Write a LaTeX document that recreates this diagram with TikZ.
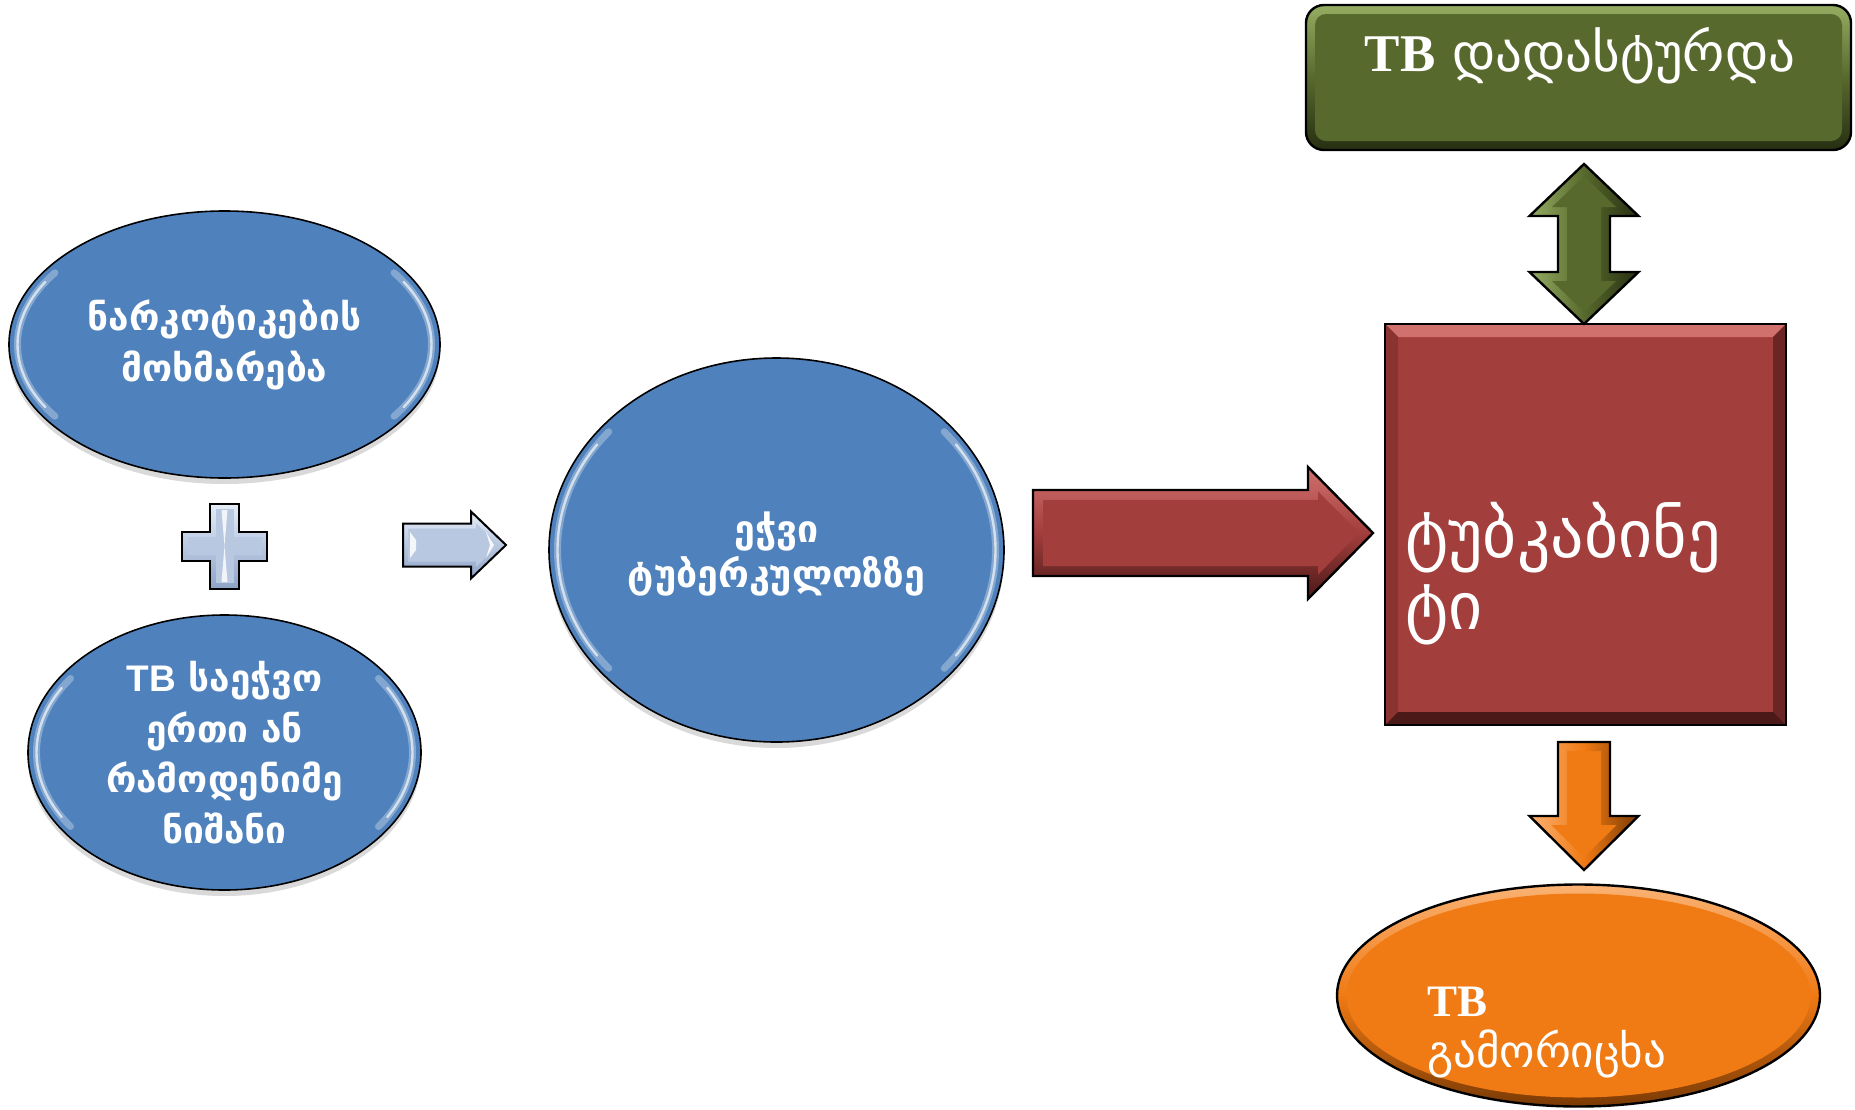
\documentclass[tikz,border=0pt]{standalone}
\usepackage{fontspec}
\setmainfont{DejaVu Sans}
\newfontfamily\geo{DejaVu Sans}
\newfontfamily\tbsans{Liberation Sans}
\newfontfamily\tbserif{Liberation Serif}
\usetikzlibrary{shapes.geometric,shadows,calc}
\definecolor{blueF}{HTML}{4F81BD}
\definecolor{redF}{HTML}{A23E3C}
\definecolor{redL}{HTML}{D0716E}
\definecolor{redM}{HTML}{8A3331}
\definecolor{redR}{HTML}{6A2524}
\definecolor{redD}{HTML}{4A1918}
\definecolor{greenF}{HTML}{58692D}
\definecolor{greenL}{HTML}{95AC62}
\definecolor{greenD}{HTML}{262F12}
\definecolor{orangeF}{HTML}{F07A14}
\definecolor{orangeL}{HTML}{FAB273}
\definecolor{orangeD}{HTML}{7A3A05}
\definecolor{lblue}{HTML}{B9C8E1}
\definecolor{lblueL}{HTML}{E6EDF7}
\definecolor{lblueD}{HTML}{8FA3C6}
\begin{document}
\begin{tikzpicture}[x=1bp,y=-1bp,
  bell/.style={ellipse, draw=black, line width=1.6bp, fill=blueF, inner sep=0, outer sep=0,
    drop shadow={opacity=0.3, shadow xshift=0bp, shadow yshift=-6bp}},
  wtext/.style={text=white, inner sep=0, font=\geo},
  hl/.style={white, opacity=0.3, line width=7bp, line cap=round},
  hlc/.style={white, opacity=0.65, line width=2.4bp, line cap=round},
  outl/.style={draw=black, line width=2.4bp, line join=miter},
]
\useasboundingbox (0,0) rectangle (1855,1109);

% ---------- blue ellipses ----------
\node[bell, minimum width=431bp, minimum height=267bp] (e1) at (224.5,344.5) {};
\node[bell, minimum width=393bp, minimum height=275bp] (e2) at (224.5,752.5) {};
\node[bell, minimum width=455bp, minimum height=384bp] (e3) at (776.5,550) {};
% gel highlights (left and right inner rims)
\draw[hl]  ($(e1.center)+(145:207 and 125)$) arc[start angle=145,end angle=215,x radius=207,y radius=125];
\draw[hlc] ($(e1.center)+(150:207 and 125)$) arc[start angle=150,end angle=210,x radius=207,y radius=125];
\draw[hl]  ($(e1.center)+(-35:207 and 125)$) arc[start angle=-35,end angle=35,x radius=207,y radius=125];
\draw[hlc] ($(e1.center)+(-30:207 and 125)$) arc[start angle=-30,end angle=30,x radius=207,y radius=125];
\draw[hl]  ($(e2.center)+(145:188 and 129)$) arc[start angle=145,end angle=215,x radius=188,y radius=129];
\draw[hlc] ($(e2.center)+(150:188 and 129)$) arc[start angle=150,end angle=210,x radius=188,y radius=129];
\draw[hl]  ($(e2.center)+(-35:188 and 129)$) arc[start angle=-35,end angle=35,x radius=188,y radius=129];
\draw[hlc] ($(e2.center)+(-30:188 and 129)$) arc[start angle=-30,end angle=30,x radius=188,y radius=129];
\draw[hl]  ($(e3.center)+(140:219 and 184)$) arc[start angle=140,end angle=220,x radius=219,y radius=184];
\draw[hlc] ($(e3.center)+(145:219 and 184)$) arc[start angle=145,end angle=215,x radius=219,y radius=184];
\draw[hl]  ($(e3.center)+(-40:219 and 184)$) arc[start angle=-40,end angle=40,x radius=219,y radius=184];
\draw[hlc] ($(e3.center)+(-35:219 and 184)$) arc[start angle=-35,end angle=35,x radius=219,y radius=184];

% ---------- plus sign ----------
\coordinate (pc) at (224.5,546);
\path[draw=black, line width=2bp, top color=lblueL, bottom color=lblueD, middle color=lblue]
  ($(pc)+(-14.5,-42.5)$) -- ($(pc)+(14.5,-42.5)$) -- ($(pc)+(14.5,-14.5)$) -- ($(pc)+(42.5,-14.5)$)
  -- ($(pc)+(42.5,14.5)$) -- ($(pc)+(14.5,14.5)$) -- ($(pc)+(14.5,42.5)$) -- ($(pc)+(-14.5,42.5)$)
  -- ($(pc)+(-14.5,14.5)$) -- ($(pc)+(-42.5,14.5)$) -- ($(pc)+(-42.5,-14.5)$) -- ($(pc)+(-14.5,-14.5)$) -- cycle;
\fill[lblue] ($(pc)+(-9,-37)$) rectangle ($(pc)+(9,37)$);
\fill[lblue] ($(pc)+(-37,-9)$) rectangle ($(pc)+(37,9)$);
\fill[white, opacity=0.8] ($(pc)+(-3,-36)$) -- ($(pc)+(3,-36)$) -- (pc) -- cycle;
\fill[white, opacity=0.8] ($(pc)+(-3,36)$) -- ($(pc)+(3,36)$) -- (pc) -- cycle;

% ---------- small light-blue arrow ----------
\shade[draw=black, line width=2bp, top color=lblueL, bottom color=lblueD, middle color=lblue]
  (403,523.5) -- (471,523.5) -- (471,511.5) -- (506,545) -- (471,578.5) -- (471,566.5) -- (403,566.5) -- cycle;
\fill[lblue] (408,528.5) -- (476,528.5) -- (476,523.2) -- (498.7,545) -- (476,566.8) -- (476,561.5) -- (408,561.5) -- cycle;
\fill[white, opacity=0.85] (410,532) -- (416,540) -- (416,550) -- (410,558) -- cycle;
\fill[white, opacity=0.85] (486,532) -- (494,545) -- (486,558) -- (490,545) -- cycle;

% ---------- big red arrow ----------
\shade[draw=black, line width=2.4bp, top color=redL, bottom color=redD, middle color=redF]
  (1033,490) -- (1308,490) -- (1308,467) -- (1373,533) -- (1308,599) -- (1308,576) -- (1033,576) -- cycle;
\fill[redF] (1043,500) -- (1318,500) -- (1318,491.4) -- (1359,533) -- (1318,574.6) -- (1318,566) -- (1043,566) -- cycle;

% ---------- red square ----------
\node[rectangle, fill=redF, minimum width=401bp, minimum height=401bp, inner sep=0, outer sep=0] (sq) at (1585.5,524.5) {};
\fill[redL] (sq.north west) -- (sq.north east) -- ($(sq.north east)+(-13,13)$) -- ($(sq.north west)+(13,13)$) -- cycle;
\fill[redM] (sq.north west) -- ($(sq.north west)+(13,13)$) -- ($(sq.south west)+(13,-13)$) -- (sq.south west) -- cycle;
\fill[redR] (sq.north east) -- (sq.south east) -- ($(sq.south east)+(-13,-13)$) -- ($(sq.north east)+(-13,13)$) -- cycle;
\fill[redD] (sq.south west) -- ($(sq.south west)+(13,-13)$) -- ($(sq.south east)+(-13,-13)$) -- (sq.south east) -- cycle;
\draw[outl] (sq.north west) rectangle (sq.south east);

% ---------- green box ----------
\node[rectangle, rounded corners=18bp, minimum width=545bp, minimum height=145bp, inner sep=0, outer sep=0,
  top color=greenL, bottom color=greenD, middle color=greenF, draw=black, line width=2.4bp] (gb) at (1578.5,77.5) {};
\fill[greenF, rounded corners=11bp] ($(gb.north west)+(9,9)$) rectangle ($(gb.south east)+(-9,-9)$);

% ---------- green double arrow ----------
\shade[draw=black, line width=2.4bp, left color=greenL, right color=greenD, middle color=greenF]
  (1584,164) -- (1638.5,216) -- (1610,216) -- (1610,272) -- (1638.5,272) -- (1584,324)
  -- (1529.5,272) -- (1558,272) -- (1558,216) -- (1529.5,216) -- cycle;
\fill[greenF] (1584,176.4) -- (1616,207) -- (1601,207) -- (1601,281) -- (1616,281) -- (1584,311.6)
  -- (1552,281) -- (1567,281) -- (1567,207) -- (1552,207) -- cycle;

% ---------- orange arrow ----------
\shade[draw=black, line width=2.4bp, left color=orangeL, right color=orangeD, middle color=orangeF]
  (1558,742) -- (1610,742) -- (1610,816) -- (1638.5,816) -- (1584,870) -- (1529.5,816) -- (1558,816) -- cycle;
\fill[orangeF] (1567,751) -- (1601,751) -- (1601,825) -- (1616.6,825) -- (1584,857.3) -- (1551.4,825) -- (1567,825) -- cycle;

% ---------- orange ellipse ----------
\node[ellipse, minimum width=483bp, minimum height=222bp, inner sep=0, outer sep=0,
  top color=orangeL, bottom color=orangeD, middle color=orangeF, draw=black, line width=2.4bp] (oe) at (1578.5,995.5) {};
\fill[orangeF] (oe.center) ellipse[x radius=232, y radius=102];

% ---------- texts ----------
\node[wtext, align=center, font=\geo\bfseries\fontsize{37bp}{51bp}\selectfont] (t1) at (e1.center) {ნარკოტიკების\\მოხმარება};
\node[wtext, align=center, font=\geo\bfseries\fontsize{37bp}{50.5bp}\selectfont] (t2) at (e2.center)
  {{\tbsans\bfseries TB} საეჭვო\\ერთი ან\\რამოდენიმე\\ნიშანი};
\node[wtext, align=center, font=\geo\bfseries\fontsize{37.5bp}{45bp}\selectfont] (t3) at ($(e3.center)+(0,4)$) {ეჭვი\\ტუბერკულოზზე};
\node[wtext, font=\geo\fontsize{53bp}{60bp}\selectfont] (tg) at (1580,56) {{\tbserif\bfseries TB} დადასტურდა};
\node[wtext, align=left, anchor=west, font=\geo\fontsize{66bp}{72bp}\selectfont] (ts) at (1405,574) {ტუბკაბინე\\ტი};
\node[wtext, align=left, anchor=west, font=\geo\fontsize{45bp}{51bp}\selectfont] (to) at (1427,1033) {{\tbserif\bfseries TB}\\გამორიცხა};
\end{tikzpicture}
\end{document}
